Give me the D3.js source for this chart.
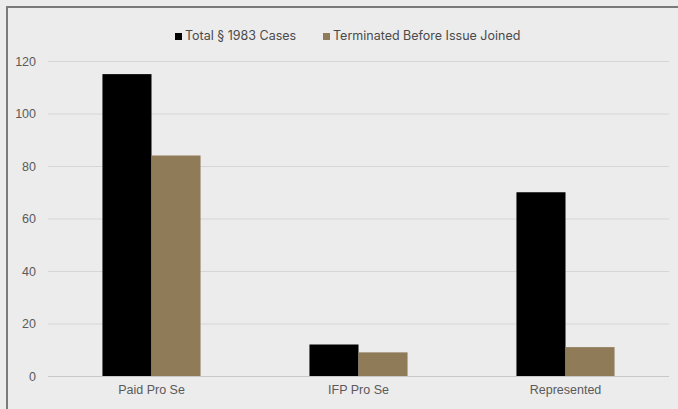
<!DOCTYPE html>
<html>
<head>
<meta charset="utf-8">
<script src="https://cdn.jsdelivr.net/npm/d3@7"></script>
<style>
  html, body { margin: 0; padding: 0; background: #ececec; }
  svg { display: block; font-family: Inter, Roboto, "Noto Sans", sans-serif; }
</style>
</head>
<body>
<svg id="chart" width="678" height="409"></svg>
<script>
const categories = ["Paid Pro Se", "IFP Pro Se", "Represented"];
const seriesNames = ["Total § 1983 Cases", "Terminated Before Issue Joined"];
const totalCases = [115, 12, 70];
const terminatedBeforeJoined = [84, 9, 11];
const yTicks = [0, 20, 40, 60, 80, 100, 120];
const colors = ["#000000", "#8f7b58"];

(function () {
  const svg = d3.select("#chart");
  const W = 678, H = 409;

  svg.append("rect").attr("width", W).attr("height", H).attr("fill", "#ececec");
  // frame: left and top edges visible
  svg.append("path")
    .attr("d", `M7,${H + 5} L7,7 L${W + 5},7`)
    .attr("fill", "none").attr("stroke", "#7a7a7a").attr("stroke-width", 2);

  const plotLeft = 48, plotRight = 669, plotTop = 61, plotBottom = 376;

  const y = d3.scaleLinear().domain([0, 120]).range([plotBottom, plotTop]);
  const x0 = d3.scaleBand().domain(categories).range([plotLeft, plotRight]).padding(0);
  const x1 = d3.scaleBand().domain(seriesNames).range([0, x0.bandwidth()])
    .paddingInner(0).paddingOuter(1.11);

  // gridlines
  const yAxis = d3.axisLeft(y).tickValues(yTicks).tickSize(-(plotRight - plotLeft)).tickPadding(12);
  const gy = svg.append("g").attr("transform", `translate(${plotLeft},0)`).call(yAxis);
  gy.select(".domain").remove();
  gy.selectAll(".tick line").attr("stroke", "#d6d6d6").attr("stroke-width", 1);
  gy.selectAll(".tick text").attr("fill", "#5a5a5a").attr("font-size", 12.5);

  const rows = categories.map((c, i) => ({
    cat: c,
    vals: [totalCases[i], terminatedBeforeJoined[i]]
  }));

  const groups = svg.append("g").selectAll("g").data(rows).join("g")
    .attr("transform", d => `translate(${x0(d.cat)},0)`);

  groups.selectAll("rect")
    .data(d => d.vals.map((v, j) => ({ name: seriesNames[j], v, j })))
    .join("rect")
    .attr("x", d => x1(d.name))
    .attr("width", x1.bandwidth())
    .attr("y", d => y(d.v))
    .attr("height", d => y(0) - y(d.v))
    .attr("fill", d => colors[d.j]);

  // baseline
  svg.append("line")
    .attr("x1", plotLeft).attr("x2", plotRight)
    .attr("y1", y(0) + 0.5).attr("y2", y(0) + 0.5)
    .attr("stroke", "#c8c8c8").attr("stroke-width", 1);

  // category labels
  const xAxis = d3.axisBottom(x0).tickSize(0).tickPadding(9);
  const gx = svg.append("g").attr("transform", `translate(0,${plotBottom})`).call(xAxis);
  gx.select(".domain").remove();
  gx.selectAll(".tick text").attr("fill", "#5a5a5a").attr("font-size", 12.5);

  // legend
  const legendItems = [
    { name: seriesNames[0], color: colors[0], x: 175 },
    { name: seriesNames[1], color: colors[1], x: 323 }
  ];
  const lg = svg.append("g").selectAll("g").data(legendItems).join("g")
    .attr("transform", d => `translate(${d.x},36)`);
  lg.append("rect").attr("x", 0).attr("y", -3).attr("width", 7).attr("height", 7)
    .attr("fill", d => d.color);
  lg.append("text").attr("x", 10).attr("y", 0).attr("dy", "0.35em")
    .attr("fill", "#4a4a4a").attr("font-size", 12.5).text(d => d.name);
})();
</script>
</body>
</html>
